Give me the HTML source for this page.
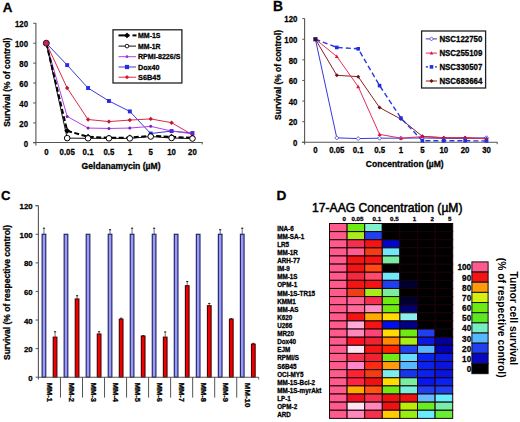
<!DOCTYPE html>
<html><head><meta charset="utf-8"><style>
html,body{margin:0;padding:0;background:#fff;}
body{width:520px;height:422px;overflow:hidden;}
svg{display:block;font-family:"Liberation Sans", sans-serif;}
</style></head><body>
<svg width="520" height="422" viewBox="0 0 520 422" font-family='"Liberation Sans", sans-serif'>
<rect x="0" y="0" width="520" height="422" fill="#fff"/>
<text x="2.70" y="11.90" font-size="13.4" font-weight="bold" text-anchor="start" fill="#000" stroke="#000" stroke-width="0.28">A</text>
<line x1="35.90" y1="23.10" x2="35.90" y2="145.50" stroke="#555" stroke-width="1.1"/>
<line x1="33.20" y1="142.45" x2="202.70" y2="142.45" stroke="#555" stroke-width="1.1"/>
<line x1="202.20" y1="142.45" x2="202.20" y2="144.40" stroke="#555" stroke-width="1.0"/>
<line x1="33.20" y1="142.80" x2="35.90" y2="142.80" stroke="#555" stroke-width="1.0"/>
<text x="28.00" y="146.80" font-size="9.0" font-weight="bold" text-anchor="end" fill="#000" stroke="#000" stroke-width="0.28" textLength="4.35" lengthAdjust="spacingAndGlyphs">0</text>
<line x1="33.20" y1="122.88" x2="35.90" y2="122.88" stroke="#555" stroke-width="1.0"/>
<text x="28.00" y="126.88" font-size="9.0" font-weight="bold" text-anchor="end" fill="#000" stroke="#000" stroke-width="0.28" textLength="8.71" lengthAdjust="spacingAndGlyphs">20</text>
<line x1="33.20" y1="102.96" x2="35.90" y2="102.96" stroke="#555" stroke-width="1.0"/>
<text x="28.00" y="106.96" font-size="9.0" font-weight="bold" text-anchor="end" fill="#000" stroke="#000" stroke-width="0.28" textLength="8.71" lengthAdjust="spacingAndGlyphs">40</text>
<line x1="33.20" y1="83.04" x2="35.90" y2="83.04" stroke="#555" stroke-width="1.0"/>
<text x="28.00" y="87.04" font-size="9.0" font-weight="bold" text-anchor="end" fill="#000" stroke="#000" stroke-width="0.28" textLength="8.71" lengthAdjust="spacingAndGlyphs">60</text>
<line x1="33.20" y1="63.12" x2="35.90" y2="63.12" stroke="#555" stroke-width="1.0"/>
<text x="28.00" y="67.12" font-size="9.0" font-weight="bold" text-anchor="end" fill="#000" stroke="#000" stroke-width="0.28" textLength="8.71" lengthAdjust="spacingAndGlyphs">80</text>
<line x1="33.20" y1="43.20" x2="35.90" y2="43.20" stroke="#555" stroke-width="1.0"/>
<text x="28.00" y="47.20" font-size="9.0" font-weight="bold" text-anchor="end" fill="#000" stroke="#000" stroke-width="0.28" textLength="13.06" lengthAdjust="spacingAndGlyphs">100</text>
<line x1="33.20" y1="23.28" x2="35.90" y2="23.28" stroke="#555" stroke-width="1.0"/>
<text x="28.00" y="27.28" font-size="9.0" font-weight="bold" text-anchor="end" fill="#000" stroke="#000" stroke-width="0.28" textLength="13.06" lengthAdjust="spacingAndGlyphs">120</text>
<text x="46.30" y="155.00" font-size="8.7" font-weight="bold" text-anchor="middle" fill="#000" stroke="#000" stroke-width="0.28" textLength="4.35" lengthAdjust="spacingAndGlyphs">0</text>
<text x="67.18" y="155.00" font-size="8.7" font-weight="bold" text-anchor="middle" fill="#000" stroke="#000" stroke-width="0.28" textLength="15.24" lengthAdjust="spacingAndGlyphs">0.05</text>
<text x="88.06" y="155.00" font-size="8.7" font-weight="bold" text-anchor="middle" fill="#000" stroke="#000" stroke-width="0.28" textLength="10.88" lengthAdjust="spacingAndGlyphs">0.1</text>
<text x="108.94" y="155.00" font-size="8.7" font-weight="bold" text-anchor="middle" fill="#000" stroke="#000" stroke-width="0.28" textLength="10.88" lengthAdjust="spacingAndGlyphs">0.5</text>
<text x="129.82" y="155.00" font-size="8.7" font-weight="bold" text-anchor="middle" fill="#000" stroke="#000" stroke-width="0.28" textLength="4.35" lengthAdjust="spacingAndGlyphs">1</text>
<text x="150.70" y="155.00" font-size="8.7" font-weight="bold" text-anchor="middle" fill="#000" stroke="#000" stroke-width="0.28" textLength="4.35" lengthAdjust="spacingAndGlyphs">5</text>
<text x="171.58" y="155.00" font-size="8.7" font-weight="bold" text-anchor="middle" fill="#000" stroke="#000" stroke-width="0.28" textLength="8.71" lengthAdjust="spacingAndGlyphs">10</text>
<text x="192.46" y="155.00" font-size="8.7" font-weight="bold" text-anchor="middle" fill="#000" stroke="#000" stroke-width="0.28" textLength="8.71" lengthAdjust="spacingAndGlyphs">20</text>
<text x="121.10" y="169.00" font-size="8.5" font-weight="bold" text-anchor="middle" fill="#000" stroke="#000" stroke-width="0.28" textLength="79.00" lengthAdjust="spacingAndGlyphs">Geldanamycin (&#181;M)</text>
<text transform="translate(6.40,82.20) rotate(-90)" x="0" y="3.24" font-size="9.0" font-weight="bold" text-anchor="middle" fill="#000" stroke="#000" stroke-width="0.28" textLength="89.20" lengthAdjust="spacingAndGlyphs">Survival (% of control)</text>
<polyline points="46.30,43.20 67.18,65.11 88.06,88.02 108.94,100.97 129.82,111.43 150.70,133.54 171.58,131.05 192.46,133.04" fill="none" stroke="#3a3ad8" stroke-width="1.0" stroke-linejoin="round"/>
<polyline points="46.30,43.20 67.18,88.02 88.06,119.49 108.94,121.59 129.82,120.09 150.70,118.90 171.58,122.68 192.46,134.83" fill="none" stroke="#dd2a44" stroke-width="1.0" stroke-linejoin="round"/>
<polyline points="46.30,43.20 67.18,116.41 88.06,128.06 108.94,128.46 129.82,128.06 150.70,126.37 171.58,131.05 192.46,133.84" fill="none" stroke="#b040e8" stroke-width="1.0" stroke-linejoin="round"/>
<polyline points="46.30,43.20 67.18,138.12 88.06,138.32 108.94,138.32 129.82,138.42 150.70,136.53 171.58,138.02 192.46,138.52" fill="none" stroke="#111" stroke-width="1.0" stroke-linejoin="round"/>
<polyline points="46.30,43.20 67.18,130.85 88.06,136.82 108.94,137.82 129.82,137.62 150.70,135.83 171.58,136.82 192.46,137.82" fill="none" stroke="#000" stroke-width="2.0" stroke-linejoin="round" stroke-dasharray="5,2.5"/>
<rect x="44.35" y="41.25" width="3.90" height="3.90" fill="#2a2ae0"/>
<rect x="65.23" y="63.16" width="3.90" height="3.90" fill="#2a2ae0"/>
<rect x="86.11" y="86.07" width="3.90" height="3.90" fill="#2a2ae0"/>
<rect x="106.99" y="99.02" width="3.90" height="3.90" fill="#2a2ae0"/>
<rect x="127.87" y="109.48" width="3.90" height="3.90" fill="#2a2ae0"/>
<rect x="148.75" y="131.59" width="3.90" height="3.90" fill="#2a2ae0"/>
<rect x="169.63" y="129.10" width="3.90" height="3.90" fill="#2a2ae0"/>
<rect x="190.51" y="131.09" width="3.90" height="3.90" fill="#2a2ae0"/>
<polygon points="46.30,41.00 48.50,43.20 46.30,45.40 44.10,43.20" fill="#c01830"/>
<polygon points="67.18,85.82 69.38,88.02 67.18,90.22 64.98,88.02" fill="#c01830"/>
<polygon points="88.06,117.29 90.26,119.49 88.06,121.69 85.86,119.49" fill="#c01830"/>
<polygon points="108.94,119.39 111.14,121.59 108.94,123.79 106.74,121.59" fill="#c01830"/>
<polygon points="129.82,117.89 132.02,120.09 129.82,122.29 127.62,120.09" fill="#c01830"/>
<polygon points="150.70,116.70 152.90,118.90 150.70,121.10 148.50,118.90" fill="#c01830"/>
<polygon points="171.58,120.48 173.78,122.68 171.58,124.88 169.38,122.68" fill="#c01830"/>
<polygon points="192.46,132.63 194.66,134.83 192.46,137.03 190.26,134.83" fill="#c01830"/>
<circle cx="46.30" cy="43.20" r="1.50" fill="#7a20c8"/>
<circle cx="67.18" cy="116.41" r="1.50" fill="#7a20c8"/>
<circle cx="88.06" cy="128.06" r="1.50" fill="#7a20c8"/>
<circle cx="108.94" cy="128.46" r="1.50" fill="#7a20c8"/>
<circle cx="129.82" cy="128.06" r="1.50" fill="#7a20c8"/>
<circle cx="150.70" cy="126.37" r="1.50" fill="#7a20c8"/>
<circle cx="171.58" cy="131.05" r="1.50" fill="#7a20c8"/>
<circle cx="192.46" cy="133.84" r="1.50" fill="#7a20c8"/>
<polygon points="67.18,127.85 70.18,130.85 67.18,133.85 64.18,130.85" fill="#000"/>
<polygon points="88.06,133.82 91.06,136.82 88.06,139.82 85.06,136.82" fill="#000"/>
<polygon points="108.94,134.82 111.94,137.82 108.94,140.82 105.94,137.82" fill="#000"/>
<polygon points="129.82,134.62 132.82,137.62 129.82,140.62 126.82,137.62" fill="#000"/>
<polygon points="150.70,132.83 153.70,135.83 150.70,138.83 147.70,135.83" fill="#000"/>
<polygon points="171.58,133.82 174.58,136.82 171.58,139.82 168.58,136.82" fill="#000"/>
<polygon points="192.46,134.82 195.46,137.82 192.46,140.82 189.46,137.82" fill="#000"/>
<circle cx="67.18" cy="138.12" r="2.80" fill="#fff" stroke="#000" stroke-width="1.0"/>
<circle cx="88.06" cy="138.32" r="2.80" fill="#fff" stroke="#000" stroke-width="1.0"/>
<circle cx="108.94" cy="138.32" r="2.80" fill="#fff" stroke="#000" stroke-width="1.0"/>
<circle cx="129.82" cy="138.42" r="2.80" fill="#fff" stroke="#000" stroke-width="1.0"/>
<circle cx="150.70" cy="136.53" r="2.80" fill="#fff" stroke="#000" stroke-width="1.0"/>
<circle cx="171.58" cy="138.02" r="2.80" fill="#fff" stroke="#000" stroke-width="1.0"/>
<circle cx="192.46" cy="138.52" r="2.80" fill="#fff" stroke="#000" stroke-width="1.0"/>
<circle cx="46.30" cy="43.20" r="3.00" fill="#c02858" stroke="#401020" stroke-width="1.0"/>
<rect x="113.00" y="29.80" width="68.90" height="53.20" fill="#fff" stroke="#222" stroke-width="1.3"/>
<line x1="118.50" y1="35.40" x2="129.50" y2="35.40" stroke="#000" stroke-width="2.0"/>
<line x1="132.50" y1="35.40" x2="136.50" y2="35.40" stroke="#000" stroke-width="2.0"/>
<polygon points="127.00,32.60 129.80,35.40 127.00,38.20 124.20,35.40" fill="#000"/>
<line x1="118.50" y1="46.10" x2="136.00" y2="46.10" stroke="#111" stroke-width="1.0"/>
<circle cx="127.00" cy="46.10" r="1.85" fill="#fff" stroke="#000" stroke-width="0.9"/>
<line x1="118.50" y1="56.70" x2="136.00" y2="56.70" stroke="#b040e8" stroke-width="1.0"/>
<circle cx="127.00" cy="56.70" r="1.40" fill="#9a30d0"/>
<line x1="118.50" y1="67.00" x2="136.00" y2="67.00" stroke="#3a3ad8" stroke-width="1.0"/>
<rect x="124.90" y="64.90" width="4.20" height="4.20" fill="#2a2ae0"/>
<line x1="118.50" y1="77.20" x2="136.00" y2="77.20" stroke="#dd2a44" stroke-width="1.0"/>
<polygon points="127.00,75.10 129.10,77.20 127.00,79.30 124.90,77.20" fill="#d81830"/>
<text x="138.00" y="38.15" font-size="7.7" font-weight="bold" text-anchor="start" fill="#000" stroke="#000" stroke-width="0.28" textLength="22.50" lengthAdjust="spacingAndGlyphs">MM-1S</text>
<text x="138.00" y="48.85" font-size="7.7" font-weight="bold" text-anchor="start" fill="#000" stroke="#000" stroke-width="0.28" textLength="22.50" lengthAdjust="spacingAndGlyphs">MM-1R</text>
<text x="138.00" y="59.45" font-size="7.7" font-weight="bold" text-anchor="start" fill="#000" stroke="#000" stroke-width="0.28" textLength="42.40" lengthAdjust="spacingAndGlyphs">RPMI-8226/S</text>
<text x="138.00" y="69.75" font-size="7.7" font-weight="bold" text-anchor="start" fill="#000" stroke="#000" stroke-width="0.28" textLength="21.50" lengthAdjust="spacingAndGlyphs">Dox40</text>
<text x="138.00" y="79.95" font-size="7.7" font-weight="bold" text-anchor="start" fill="#000" stroke="#000" stroke-width="0.28" textLength="22.50" lengthAdjust="spacingAndGlyphs">S6B45</text>
<text x="273.00" y="11.30" font-size="13.8" font-weight="bold" text-anchor="start" fill="#000" stroke="#000" stroke-width="0.28">B</text>
<line x1="304.60" y1="18.60" x2="304.60" y2="144.50" stroke="#555" stroke-width="1.1"/>
<line x1="301.90" y1="142.30" x2="497.60" y2="142.30" stroke="#555" stroke-width="1.1"/>
<line x1="497.20" y1="142.30" x2="497.20" y2="144.20" stroke="#555" stroke-width="1.0"/>
<line x1="302.30" y1="142.30" x2="304.60" y2="142.30" stroke="#555" stroke-width="1.0"/>
<text x="297.40" y="146.10" font-size="9.0" font-weight="bold" text-anchor="end" fill="#000" stroke="#000" stroke-width="0.28" textLength="4.35" lengthAdjust="spacingAndGlyphs">0</text>
<line x1="302.30" y1="121.68" x2="304.60" y2="121.68" stroke="#555" stroke-width="1.0"/>
<text x="297.40" y="125.48" font-size="9.0" font-weight="bold" text-anchor="end" fill="#000" stroke="#000" stroke-width="0.28" textLength="8.71" lengthAdjust="spacingAndGlyphs">20</text>
<line x1="302.30" y1="101.07" x2="304.60" y2="101.07" stroke="#555" stroke-width="1.0"/>
<text x="297.40" y="104.87" font-size="9.0" font-weight="bold" text-anchor="end" fill="#000" stroke="#000" stroke-width="0.28" textLength="8.71" lengthAdjust="spacingAndGlyphs">40</text>
<line x1="302.30" y1="80.45" x2="304.60" y2="80.45" stroke="#555" stroke-width="1.0"/>
<text x="297.40" y="84.25" font-size="9.0" font-weight="bold" text-anchor="end" fill="#000" stroke="#000" stroke-width="0.28" textLength="8.71" lengthAdjust="spacingAndGlyphs">60</text>
<line x1="302.30" y1="59.83" x2="304.60" y2="59.83" stroke="#555" stroke-width="1.0"/>
<text x="297.40" y="63.63" font-size="9.0" font-weight="bold" text-anchor="end" fill="#000" stroke="#000" stroke-width="0.28" textLength="8.71" lengthAdjust="spacingAndGlyphs">80</text>
<line x1="302.30" y1="39.22" x2="304.60" y2="39.22" stroke="#555" stroke-width="1.0"/>
<text x="297.40" y="43.02" font-size="9.0" font-weight="bold" text-anchor="end" fill="#000" stroke="#000" stroke-width="0.28" textLength="13.06" lengthAdjust="spacingAndGlyphs">100</text>
<line x1="302.30" y1="18.60" x2="304.60" y2="18.60" stroke="#555" stroke-width="1.0"/>
<text x="297.40" y="22.40" font-size="9.0" font-weight="bold" text-anchor="end" fill="#000" stroke="#000" stroke-width="0.28" textLength="13.06" lengthAdjust="spacingAndGlyphs">120</text>
<text x="315.40" y="152.90" font-size="8.7" font-weight="bold" text-anchor="middle" fill="#000" stroke="#000" stroke-width="0.28" textLength="4.35" lengthAdjust="spacingAndGlyphs">0</text>
<text x="336.79" y="152.90" font-size="8.7" font-weight="bold" text-anchor="middle" fill="#000" stroke="#000" stroke-width="0.28" textLength="15.24" lengthAdjust="spacingAndGlyphs">0.05</text>
<text x="358.18" y="152.90" font-size="8.7" font-weight="bold" text-anchor="middle" fill="#000" stroke="#000" stroke-width="0.28" textLength="10.88" lengthAdjust="spacingAndGlyphs">0.1</text>
<text x="379.57" y="152.90" font-size="8.7" font-weight="bold" text-anchor="middle" fill="#000" stroke="#000" stroke-width="0.28" textLength="10.88" lengthAdjust="spacingAndGlyphs">0.5</text>
<text x="400.96" y="152.90" font-size="8.7" font-weight="bold" text-anchor="middle" fill="#000" stroke="#000" stroke-width="0.28" textLength="4.35" lengthAdjust="spacingAndGlyphs">1</text>
<text x="422.35" y="152.90" font-size="8.7" font-weight="bold" text-anchor="middle" fill="#000" stroke="#000" stroke-width="0.28" textLength="4.35" lengthAdjust="spacingAndGlyphs">5</text>
<text x="443.74" y="152.90" font-size="8.7" font-weight="bold" text-anchor="middle" fill="#000" stroke="#000" stroke-width="0.28" textLength="8.71" lengthAdjust="spacingAndGlyphs">10</text>
<text x="465.13" y="152.90" font-size="8.7" font-weight="bold" text-anchor="middle" fill="#000" stroke="#000" stroke-width="0.28" textLength="8.71" lengthAdjust="spacingAndGlyphs">20</text>
<text x="486.52" y="152.90" font-size="8.7" font-weight="bold" text-anchor="middle" fill="#000" stroke="#000" stroke-width="0.28" textLength="8.71" lengthAdjust="spacingAndGlyphs">30</text>
<text x="404.75" y="166.50" font-size="8.5" font-weight="bold" text-anchor="middle" fill="#000" stroke="#000" stroke-width="0.28" textLength="77.80" lengthAdjust="spacingAndGlyphs">Concentration (&#181;M)</text>
<text transform="translate(277.30,75.00) rotate(-90)" x="0" y="3.24" font-size="9.0" font-weight="bold" text-anchor="middle" fill="#000" stroke="#000" stroke-width="0.28" textLength="89.90" lengthAdjust="spacingAndGlyphs">Survival (% of control)</text>
<polyline points="315.40,39.22 336.79,137.87 358.18,138.59 379.57,138.18 400.96,138.18 422.35,137.97 443.74,138.38 465.13,138.38 486.52,137.76" fill="none" stroke="#3838d8" stroke-width="1.0" stroke-linejoin="round"/>
<polyline points="315.40,39.22 336.79,75.30 358.18,76.64 379.57,107.56 400.96,119.11 422.35,136.32 443.74,137.76 465.13,137.76 486.52,138.80" fill="none" stroke="#8a2020" stroke-width="1.0" stroke-linejoin="round"/>
<polyline points="315.40,39.22 336.79,56.43 358.18,86.64 379.57,134.36 400.96,138.18 422.35,136.63 443.74,137.66 465.13,137.66 486.52,138.69" fill="none" stroke="#e0305a" stroke-width="1.0" stroke-linejoin="round"/>
<polyline points="315.40,39.22 336.79,47.46 358.18,48.80 379.57,85.60 400.96,118.08 422.35,140.75 443.74,140.75 465.13,140.75 486.52,140.96" fill="none" stroke="#2838e0" stroke-width="1.4" stroke-linejoin="round" stroke-dasharray="5,3"/>
<polygon points="336.79,135.87 338.79,137.87 336.79,139.87 334.79,137.87" fill="#fff" stroke="#3838d8" stroke-width="0.8"/>
<polygon points="358.18,136.59 360.18,138.59 358.18,140.59 356.18,138.59" fill="#fff" stroke="#3838d8" stroke-width="0.8"/>
<polygon points="379.57,136.18 381.57,138.18 379.57,140.18 377.57,138.18" fill="#fff" stroke="#3838d8" stroke-width="0.8"/>
<polygon points="400.96,136.18 402.96,138.18 400.96,140.18 398.96,138.18" fill="#fff" stroke="#3838d8" stroke-width="0.8"/>
<polygon points="422.35,135.97 424.35,137.97 422.35,139.97 420.35,137.97" fill="#fff" stroke="#3838d8" stroke-width="0.8"/>
<polygon points="443.74,136.38 445.74,138.38 443.74,140.38 441.74,138.38" fill="#fff" stroke="#3838d8" stroke-width="0.8"/>
<polygon points="465.13,136.38 467.13,138.38 465.13,140.38 463.13,138.38" fill="#fff" stroke="#3838d8" stroke-width="0.8"/>
<polygon points="486.52,135.76 488.52,137.76 486.52,139.76 484.52,137.76" fill="#fff" stroke="#3838d8" stroke-width="0.8"/>
<polygon points="336.79,73.30 338.79,75.30 336.79,77.30 334.79,75.30" fill="#701010"/>
<polygon points="358.18,74.64 360.18,76.64 358.18,78.64 356.18,76.64" fill="#701010"/>
<polygon points="379.57,105.56 381.57,107.56 379.57,109.56 377.57,107.56" fill="#701010"/>
<polygon points="400.96,117.11 402.96,119.11 400.96,121.11 398.96,119.11" fill="#701010"/>
<polygon points="422.35,134.32 424.35,136.32 422.35,138.32 420.35,136.32" fill="#701010"/>
<polygon points="443.74,135.76 445.74,137.76 443.74,139.76 441.74,137.76" fill="#701010"/>
<polygon points="465.13,135.76 467.13,137.76 465.13,139.76 463.13,137.76" fill="#701010"/>
<polygon points="486.52,136.80 488.52,138.80 486.52,140.80 484.52,138.80" fill="#701010"/>
<polygon points="336.79,54.43 338.79,58.03 334.79,58.03" fill="#e01040"/>
<polygon points="358.18,84.64 360.18,88.23 356.18,88.23" fill="#e01040"/>
<polygon points="379.57,132.36 381.57,135.96 377.57,135.96" fill="#e01040"/>
<polygon points="400.96,136.18 402.96,139.78 398.96,139.78" fill="#e01040"/>
<polygon points="422.35,134.63 424.35,138.23 420.35,138.23" fill="#e01040"/>
<polygon points="443.74,135.66 445.74,139.26 441.74,139.26" fill="#e01040"/>
<polygon points="465.13,135.66 467.13,139.26 463.13,139.26" fill="#e01040"/>
<polygon points="486.52,136.69 488.52,140.29 484.52,140.29" fill="#e01040"/>
<rect x="334.99" y="45.66" width="3.60" height="3.60" fill="#2030e0"/>
<rect x="356.38" y="47.00" width="3.60" height="3.60" fill="#2030e0"/>
<rect x="377.77" y="83.80" width="3.60" height="3.60" fill="#2030e0"/>
<rect x="399.16" y="116.28" width="3.60" height="3.60" fill="#2030e0"/>
<rect x="420.55" y="138.95" width="3.60" height="3.60" fill="#2030e0"/>
<rect x="441.94" y="138.95" width="3.60" height="3.60" fill="#2030e0"/>
<rect x="463.33" y="138.95" width="3.60" height="3.60" fill="#2030e0"/>
<rect x="484.72" y="139.16" width="3.60" height="3.60" fill="#2030e0"/>
<rect x="313.30" y="37.12" width="4.20" height="4.20" fill="#301040"/>
<rect x="421.60" y="31.00" width="64.00" height="57.00" fill="#fff" stroke="#222" stroke-width="1.3"/>
<line x1="425.80" y1="38.90" x2="437.00" y2="38.90" stroke="#3838d8" stroke-width="1.0"/>
<polygon points="431.50,36.90 433.50,38.90 431.50,40.90 429.50,38.90" fill="#fff" stroke="#3838d8" stroke-width="0.8"/>
<line x1="425.80" y1="53.10" x2="437.00" y2="53.10" stroke="#e0305a" stroke-width="1.0"/>
<polygon points="431.50,51.30 433.30,54.54 429.70,54.54" fill="#e01040"/>
<line x1="425.80" y1="66.90" x2="428.00" y2="66.90" stroke="#2838e0" stroke-width="1.4"/>
<line x1="435.00" y1="66.90" x2="437.00" y2="66.90" stroke="#2838e0" stroke-width="1.4"/>
<rect x="429.70" y="65.10" width="3.60" height="3.60" fill="#2030e0"/>
<line x1="425.80" y1="81.00" x2="437.00" y2="81.00" stroke="#8a2020" stroke-width="1.0"/>
<polygon points="431.50,79.00 433.50,81.00 431.50,83.00 429.50,81.00" fill="#701010"/>
<text x="439.40" y="41.90" font-size="8.2" font-weight="bold" text-anchor="start" fill="#000" stroke="#000" stroke-width="0.28" textLength="43.00" lengthAdjust="spacingAndGlyphs">NSC122750</text>
<text x="439.40" y="56.10" font-size="8.2" font-weight="bold" text-anchor="start" fill="#000" stroke="#000" stroke-width="0.28" textLength="43.00" lengthAdjust="spacingAndGlyphs">NSC255109</text>
<text x="439.40" y="69.90" font-size="8.2" font-weight="bold" text-anchor="start" fill="#000" stroke="#000" stroke-width="0.28" textLength="43.00" lengthAdjust="spacingAndGlyphs">NSC330507</text>
<text x="439.40" y="84.00" font-size="8.2" font-weight="bold" text-anchor="start" fill="#000" stroke="#000" stroke-width="0.28" textLength="43.00" lengthAdjust="spacingAndGlyphs">NSC683664</text>
<text x="1.10" y="200.30" font-size="13.2" font-weight="bold" text-anchor="start" fill="#000" stroke="#000" stroke-width="0.28">C</text>
<line x1="38.40" y1="205.70" x2="38.40" y2="379.40" stroke="#555" stroke-width="1.1"/>
<line x1="35.40" y1="205.70" x2="38.40" y2="205.70" stroke="#555" stroke-width="1.0"/>
<line x1="35.60" y1="377.20" x2="38.40" y2="377.20" stroke="#555" stroke-width="1.0"/>
<text x="32.70" y="380.70" font-size="8.0" font-weight="bold" text-anchor="end" fill="#000" stroke="#000" stroke-width="0.28" textLength="4.36" lengthAdjust="spacingAndGlyphs">0</text>
<line x1="35.60" y1="348.62" x2="38.40" y2="348.62" stroke="#555" stroke-width="1.0"/>
<text x="32.70" y="352.12" font-size="8.0" font-weight="bold" text-anchor="end" fill="#000" stroke="#000" stroke-width="0.28" textLength="8.72" lengthAdjust="spacingAndGlyphs">20</text>
<line x1="35.60" y1="320.03" x2="38.40" y2="320.03" stroke="#555" stroke-width="1.0"/>
<text x="32.70" y="323.53" font-size="8.0" font-weight="bold" text-anchor="end" fill="#000" stroke="#000" stroke-width="0.28" textLength="8.72" lengthAdjust="spacingAndGlyphs">40</text>
<line x1="35.60" y1="291.45" x2="38.40" y2="291.45" stroke="#555" stroke-width="1.0"/>
<text x="32.70" y="294.95" font-size="8.0" font-weight="bold" text-anchor="end" fill="#000" stroke="#000" stroke-width="0.28" textLength="8.72" lengthAdjust="spacingAndGlyphs">60</text>
<line x1="35.60" y1="262.87" x2="38.40" y2="262.87" stroke="#555" stroke-width="1.0"/>
<text x="32.70" y="266.37" font-size="8.0" font-weight="bold" text-anchor="end" fill="#000" stroke="#000" stroke-width="0.28" textLength="8.72" lengthAdjust="spacingAndGlyphs">80</text>
<line x1="35.60" y1="234.28" x2="38.40" y2="234.28" stroke="#555" stroke-width="1.0"/>
<text x="32.70" y="237.78" font-size="8.0" font-weight="bold" text-anchor="end" fill="#000" stroke="#000" stroke-width="0.28" textLength="13.08" lengthAdjust="spacingAndGlyphs">100</text>
<line x1="35.60" y1="205.70" x2="38.40" y2="205.70" stroke="#555" stroke-width="1.0"/>
<text x="32.70" y="209.20" font-size="8.0" font-weight="bold" text-anchor="end" fill="#000" stroke="#000" stroke-width="0.28" textLength="13.08" lengthAdjust="spacingAndGlyphs">120</text>
<text transform="translate(6.60,292.50) rotate(-90)" x="0" y="3.13" font-size="8.7" font-weight="bold" text-anchor="middle" fill="#000" stroke="#000" stroke-width="0.28" textLength="135.10" lengthAdjust="spacingAndGlyphs">Survival (% of respective control)</text>
<line x1="43.95" y1="228.20" x2="43.95" y2="234.28" stroke="#333" stroke-width="0.7"/>
<line x1="42.85" y1="228.20" x2="45.05" y2="228.20" stroke="#223" stroke-width="1.1"/>
<line x1="55.05" y1="331.70" x2="55.05" y2="337.18" stroke="#333" stroke-width="0.7"/>
<line x1="53.95" y1="331.70" x2="56.15" y2="331.70" stroke="#232" stroke-width="1.1"/>
<rect x="42.13" y="234.28" width="3.65" height="142.92" fill="#9a9cf4" stroke="#22226a" stroke-width="1.15"/>
<rect x="53.23" y="337.18" width="3.65" height="40.02" fill="#ec0000" stroke="#500000" stroke-width="1.15"/>
<line x1="77.08" y1="295.70" x2="77.08" y2="299.02" stroke="#333" stroke-width="0.7"/>
<line x1="75.98" y1="295.70" x2="78.18" y2="295.70" stroke="#232" stroke-width="1.1"/>
<rect x="64.16" y="234.28" width="3.65" height="142.92" fill="#9a9cf4" stroke="#22226a" stroke-width="1.15"/>
<rect x="75.26" y="299.02" width="3.65" height="78.18" fill="#ec0000" stroke="#500000" stroke-width="1.15"/>
<line x1="99.11" y1="331.70" x2="99.11" y2="334.04" stroke="#333" stroke-width="0.7"/>
<line x1="98.01" y1="331.70" x2="100.21" y2="331.70" stroke="#232" stroke-width="1.1"/>
<rect x="86.19" y="234.28" width="3.65" height="142.92" fill="#9a9cf4" stroke="#22226a" stroke-width="1.15"/>
<rect x="97.29" y="334.04" width="3.65" height="43.16" fill="#ec0000" stroke="#500000" stroke-width="1.15"/>
<line x1="110.04" y1="229.70" x2="110.04" y2="234.28" stroke="#333" stroke-width="0.7"/>
<line x1="108.94" y1="229.70" x2="111.14" y2="229.70" stroke="#223" stroke-width="1.1"/>
<line x1="121.14" y1="318.20" x2="121.14" y2="319.18" stroke="#333" stroke-width="0.7"/>
<line x1="120.04" y1="318.20" x2="122.24" y2="318.20" stroke="#232" stroke-width="1.1"/>
<rect x="108.22" y="234.28" width="3.65" height="142.92" fill="#9a9cf4" stroke="#22226a" stroke-width="1.15"/>
<rect x="119.32" y="319.18" width="3.65" height="58.02" fill="#ec0000" stroke="#500000" stroke-width="1.15"/>
<line x1="132.07" y1="228.20" x2="132.07" y2="234.28" stroke="#333" stroke-width="0.7"/>
<line x1="130.97" y1="228.20" x2="133.17" y2="228.20" stroke="#223" stroke-width="1.1"/>
<line x1="143.17" y1="335.70" x2="143.17" y2="336.04" stroke="#333" stroke-width="0.7"/>
<line x1="142.07" y1="335.70" x2="144.27" y2="335.70" stroke="#232" stroke-width="1.1"/>
<rect x="130.25" y="234.28" width="3.65" height="142.92" fill="#9a9cf4" stroke="#22226a" stroke-width="1.15"/>
<rect x="141.34" y="336.04" width="3.65" height="41.16" fill="#ec0000" stroke="#500000" stroke-width="1.15"/>
<line x1="154.10" y1="228.20" x2="154.10" y2="234.28" stroke="#333" stroke-width="0.7"/>
<line x1="153.00" y1="228.20" x2="155.20" y2="228.20" stroke="#223" stroke-width="1.1"/>
<line x1="165.20" y1="331.90" x2="165.20" y2="337.18" stroke="#333" stroke-width="0.7"/>
<line x1="164.10" y1="331.90" x2="166.30" y2="331.90" stroke="#232" stroke-width="1.1"/>
<rect x="152.28" y="234.28" width="3.65" height="142.92" fill="#9a9cf4" stroke="#22226a" stroke-width="1.15"/>
<rect x="163.38" y="337.18" width="3.65" height="40.02" fill="#ec0000" stroke="#500000" stroke-width="1.15"/>
<line x1="187.23" y1="281.50" x2="187.23" y2="285.73" stroke="#333" stroke-width="0.7"/>
<line x1="186.13" y1="281.50" x2="188.33" y2="281.50" stroke="#232" stroke-width="1.1"/>
<rect x="174.30" y="234.28" width="3.65" height="142.92" fill="#9a9cf4" stroke="#22226a" stroke-width="1.15"/>
<rect x="185.40" y="285.73" width="3.65" height="91.47" fill="#ec0000" stroke="#500000" stroke-width="1.15"/>
<line x1="209.26" y1="303.50" x2="209.26" y2="305.74" stroke="#333" stroke-width="0.7"/>
<line x1="208.16" y1="303.50" x2="210.36" y2="303.50" stroke="#232" stroke-width="1.1"/>
<rect x="196.34" y="234.28" width="3.65" height="142.92" fill="#9a9cf4" stroke="#22226a" stroke-width="1.15"/>
<rect x="207.44" y="305.74" width="3.65" height="71.46" fill="#ec0000" stroke="#500000" stroke-width="1.15"/>
<line x1="220.19" y1="229.70" x2="220.19" y2="234.28" stroke="#333" stroke-width="0.7"/>
<line x1="219.09" y1="229.70" x2="221.29" y2="229.70" stroke="#223" stroke-width="1.1"/>
<line x1="231.29" y1="318.70" x2="231.29" y2="319.18" stroke="#333" stroke-width="0.7"/>
<line x1="230.19" y1="318.70" x2="232.39" y2="318.70" stroke="#232" stroke-width="1.1"/>
<rect x="218.36" y="234.28" width="3.65" height="142.92" fill="#9a9cf4" stroke="#22226a" stroke-width="1.15"/>
<rect x="229.46" y="319.18" width="3.65" height="58.02" fill="#ec0000" stroke="#500000" stroke-width="1.15"/>
<line x1="242.22" y1="228.20" x2="242.22" y2="234.28" stroke="#333" stroke-width="0.7"/>
<line x1="241.12" y1="228.20" x2="243.32" y2="228.20" stroke="#223" stroke-width="1.1"/>
<line x1="253.32" y1="343.40" x2="253.32" y2="344.19" stroke="#333" stroke-width="0.7"/>
<line x1="252.22" y1="343.40" x2="254.42" y2="343.40" stroke="#232" stroke-width="1.1"/>
<rect x="240.40" y="234.28" width="3.65" height="142.92" fill="#9a9cf4" stroke="#22226a" stroke-width="1.15"/>
<rect x="251.50" y="344.19" width="3.65" height="33.01" fill="#ec0000" stroke="#500000" stroke-width="1.15"/>
<line x1="38.40" y1="377.20" x2="258.70" y2="377.20" stroke="#555" stroke-width="1.1"/>
<line x1="60.48" y1="377.20" x2="60.48" y2="397.60" stroke="#555" stroke-width="1.0"/>
<line x1="82.51" y1="377.20" x2="82.51" y2="397.60" stroke="#555" stroke-width="1.0"/>
<line x1="104.54" y1="377.20" x2="104.54" y2="397.60" stroke="#555" stroke-width="1.0"/>
<line x1="126.57" y1="377.20" x2="126.57" y2="397.60" stroke="#555" stroke-width="1.0"/>
<line x1="148.60" y1="377.20" x2="148.60" y2="397.60" stroke="#555" stroke-width="1.0"/>
<line x1="170.63" y1="377.20" x2="170.63" y2="397.60" stroke="#555" stroke-width="1.0"/>
<line x1="192.66" y1="377.20" x2="192.66" y2="397.60" stroke="#555" stroke-width="1.0"/>
<line x1="214.69" y1="377.20" x2="214.69" y2="397.60" stroke="#555" stroke-width="1.0"/>
<line x1="236.72" y1="377.20" x2="236.72" y2="397.60" stroke="#555" stroke-width="1.0"/>
<line x1="258.70" y1="377.20" x2="258.70" y2="379.40" stroke="#555" stroke-width="1.0"/>
<text transform="translate(48.55,382.8) rotate(90)" x="0" y="1.8" font-size="8.0" font-weight="bold" text-anchor="start" stroke="#000" stroke-width="0.3" textLength="19.2" lengthAdjust="spacingAndGlyphs">MM-1</text>
<text transform="translate(70.58,382.8) rotate(90)" x="0" y="1.8" font-size="8.0" font-weight="bold" text-anchor="start" stroke="#000" stroke-width="0.3" textLength="19.2" lengthAdjust="spacingAndGlyphs">MM-2</text>
<text transform="translate(92.61,382.8) rotate(90)" x="0" y="1.8" font-size="8.0" font-weight="bold" text-anchor="start" stroke="#000" stroke-width="0.3" textLength="19.2" lengthAdjust="spacingAndGlyphs">MM-3</text>
<text transform="translate(114.64,382.8) rotate(90)" x="0" y="1.8" font-size="8.0" font-weight="bold" text-anchor="start" stroke="#000" stroke-width="0.3" textLength="19.2" lengthAdjust="spacingAndGlyphs">MM-4</text>
<text transform="translate(136.67,382.8) rotate(90)" x="0" y="1.8" font-size="8.0" font-weight="bold" text-anchor="start" stroke="#000" stroke-width="0.3" textLength="19.2" lengthAdjust="spacingAndGlyphs">MM-5</text>
<text transform="translate(158.70,382.8) rotate(90)" x="0" y="1.8" font-size="8.0" font-weight="bold" text-anchor="start" stroke="#000" stroke-width="0.3" textLength="19.2" lengthAdjust="spacingAndGlyphs">MM-6</text>
<text transform="translate(180.73,382.8) rotate(90)" x="0" y="1.8" font-size="8.0" font-weight="bold" text-anchor="start" stroke="#000" stroke-width="0.3" textLength="19.2" lengthAdjust="spacingAndGlyphs">MM-7</text>
<text transform="translate(202.76,382.8) rotate(90)" x="0" y="1.8" font-size="8.0" font-weight="bold" text-anchor="start" stroke="#000" stroke-width="0.3" textLength="19.2" lengthAdjust="spacingAndGlyphs">MM-8</text>
<text transform="translate(224.79,382.8) rotate(90)" x="0" y="1.8" font-size="8.0" font-weight="bold" text-anchor="start" stroke="#000" stroke-width="0.3" textLength="19.2" lengthAdjust="spacingAndGlyphs">MM-9</text>
<text transform="translate(246.82,382.8) rotate(90)" x="0" y="1.8" font-size="8.0" font-weight="bold" text-anchor="start" stroke="#000" stroke-width="0.3" textLength="24.6" lengthAdjust="spacingAndGlyphs">MM-10</text>
<text x="276.40" y="200.20" font-size="13.7" font-weight="bold" text-anchor="start" fill="#000" stroke="#000" stroke-width="0.28">D</text>
<text x="312.10" y="212.00" font-size="12.0" font-weight="normal" text-anchor="start" fill="#000" stroke="#000" stroke-width="0.5" textLength="150.40" lengthAdjust="spacingAndGlyphs">17-AAG Concentration (&#181;M)</text>
<text x="345.90" y="221.20" font-size="6.2" font-weight="bold" text-anchor="end" fill="#000" stroke="#000" stroke-width="0.28">0</text>
<text x="363.50" y="221.20" font-size="6.2" font-weight="bold" text-anchor="end" fill="#000" stroke="#000" stroke-width="0.28">0.05</text>
<text x="381.10" y="221.20" font-size="6.2" font-weight="bold" text-anchor="end" fill="#000" stroke="#000" stroke-width="0.28">0.1</text>
<text x="398.70" y="221.20" font-size="6.2" font-weight="bold" text-anchor="end" fill="#000" stroke="#000" stroke-width="0.28">0.5</text>
<text x="416.30" y="221.20" font-size="6.2" font-weight="bold" text-anchor="end" fill="#000" stroke="#000" stroke-width="0.28">1</text>
<text x="433.90" y="221.20" font-size="6.2" font-weight="bold" text-anchor="end" fill="#000" stroke="#000" stroke-width="0.28">2</text>
<text x="451.50" y="221.20" font-size="6.2" font-weight="bold" text-anchor="end" fill="#000" stroke="#000" stroke-width="0.28">5</text>
<rect x="329.50" y="223.50" width="17.60" height="8.12" fill="#ff5a8c" stroke="#1a0008" stroke-width="1.0"/>
<rect x="347.10" y="223.50" width="17.60" height="8.12" fill="#6cec10" stroke="#1a0008" stroke-width="1.0"/>
<rect x="364.70" y="223.50" width="17.60" height="8.12" fill="#7ef0cc" stroke="#1a0008" stroke-width="1.0"/>
<rect x="382.30" y="223.50" width="17.60" height="8.12" fill="#000000" stroke="#1a0008" stroke-width="1.0"/>
<rect x="399.90" y="223.50" width="17.60" height="8.12" fill="#000000" stroke="#1a0008" stroke-width="1.0"/>
<rect x="417.50" y="223.50" width="17.60" height="8.12" fill="#000000" stroke="#1a0008" stroke-width="1.0"/>
<rect x="435.10" y="223.50" width="17.60" height="8.12" fill="#000000" stroke="#1a0008" stroke-width="1.0"/>
<rect x="329.50" y="231.62" width="17.60" height="8.12" fill="#ff5a8c" stroke="#1a0008" stroke-width="1.0"/>
<rect x="347.10" y="231.62" width="17.60" height="8.12" fill="#a8ec18" stroke="#1a0008" stroke-width="1.0"/>
<rect x="364.70" y="231.62" width="17.60" height="8.12" fill="#2040f0" stroke="#1a0008" stroke-width="1.0"/>
<rect x="382.30" y="231.62" width="17.60" height="8.12" fill="#000000" stroke="#1a0008" stroke-width="1.0"/>
<rect x="399.90" y="231.62" width="17.60" height="8.12" fill="#000000" stroke="#1a0008" stroke-width="1.0"/>
<rect x="417.50" y="231.62" width="17.60" height="8.12" fill="#000000" stroke="#1a0008" stroke-width="1.0"/>
<rect x="435.10" y="231.62" width="17.60" height="8.12" fill="#000000" stroke="#1a0008" stroke-width="1.0"/>
<rect x="329.50" y="239.74" width="17.60" height="8.12" fill="#ff5a8c" stroke="#1a0008" stroke-width="1.0"/>
<rect x="347.10" y="239.74" width="17.60" height="8.12" fill="#f5304f" stroke="#1a0008" stroke-width="1.0"/>
<rect x="364.70" y="239.74" width="17.60" height="8.12" fill="#f41414" stroke="#1a0008" stroke-width="1.0"/>
<rect x="382.30" y="239.74" width="17.60" height="8.12" fill="#0008c8" stroke="#1a0008" stroke-width="1.0"/>
<rect x="399.90" y="239.74" width="17.60" height="8.12" fill="#000000" stroke="#1a0008" stroke-width="1.0"/>
<rect x="417.50" y="239.74" width="17.60" height="8.12" fill="#000000" stroke="#1a0008" stroke-width="1.0"/>
<rect x="435.10" y="239.74" width="17.60" height="8.12" fill="#000000" stroke="#1a0008" stroke-width="1.0"/>
<rect x="329.50" y="247.86" width="17.60" height="8.12" fill="#ff5a8c" stroke="#1a0008" stroke-width="1.0"/>
<rect x="347.10" y="247.86" width="17.60" height="8.12" fill="#ff5c90" stroke="#1a0008" stroke-width="1.0"/>
<rect x="364.70" y="247.86" width="17.60" height="8.12" fill="#f23c14" stroke="#1a0008" stroke-width="1.0"/>
<rect x="382.30" y="247.86" width="17.60" height="8.12" fill="#70e8f8" stroke="#1a0008" stroke-width="1.0"/>
<rect x="399.90" y="247.86" width="17.60" height="8.12" fill="#000000" stroke="#1a0008" stroke-width="1.0"/>
<rect x="417.50" y="247.86" width="17.60" height="8.12" fill="#000000" stroke="#1a0008" stroke-width="1.0"/>
<rect x="435.10" y="247.86" width="17.60" height="8.12" fill="#000000" stroke="#1a0008" stroke-width="1.0"/>
<rect x="329.50" y="255.98" width="17.60" height="8.12" fill="#ff5a8c" stroke="#1a0008" stroke-width="1.0"/>
<rect x="347.10" y="255.98" width="17.60" height="8.12" fill="#f41414" stroke="#1a0008" stroke-width="1.0"/>
<rect x="364.70" y="255.98" width="17.60" height="8.12" fill="#f41414" stroke="#1a0008" stroke-width="1.0"/>
<rect x="382.30" y="255.98" width="17.60" height="8.12" fill="#78eea0" stroke="#1a0008" stroke-width="1.0"/>
<rect x="399.90" y="255.98" width="17.60" height="8.12" fill="#000000" stroke="#1a0008" stroke-width="1.0"/>
<rect x="417.50" y="255.98" width="17.60" height="8.12" fill="#000000" stroke="#1a0008" stroke-width="1.0"/>
<rect x="435.10" y="255.98" width="17.60" height="8.12" fill="#000000" stroke="#1a0008" stroke-width="1.0"/>
<rect x="329.50" y="264.10" width="17.60" height="8.12" fill="#ff5a8c" stroke="#1a0008" stroke-width="1.0"/>
<rect x="347.10" y="264.10" width="17.60" height="8.12" fill="#f41414" stroke="#1a0008" stroke-width="1.0"/>
<rect x="364.70" y="264.10" width="17.60" height="8.12" fill="#ff4a14" stroke="#1a0008" stroke-width="1.0"/>
<rect x="382.30" y="264.10" width="17.60" height="8.12" fill="#000000" stroke="#1a0008" stroke-width="1.0"/>
<rect x="399.90" y="264.10" width="17.60" height="8.12" fill="#000000" stroke="#1a0008" stroke-width="1.0"/>
<rect x="417.50" y="264.10" width="17.60" height="8.12" fill="#000000" stroke="#1a0008" stroke-width="1.0"/>
<rect x="435.10" y="264.10" width="17.60" height="8.12" fill="#000000" stroke="#1a0008" stroke-width="1.0"/>
<rect x="329.50" y="272.22" width="17.60" height="8.12" fill="#ff5a8c" stroke="#1a0008" stroke-width="1.0"/>
<rect x="347.10" y="272.22" width="17.60" height="8.12" fill="#f52840" stroke="#1a0008" stroke-width="1.0"/>
<rect x="364.70" y="272.22" width="17.60" height="8.12" fill="#ff4a6a" stroke="#1a0008" stroke-width="1.0"/>
<rect x="382.30" y="272.22" width="17.60" height="8.12" fill="#70e8f8" stroke="#1a0008" stroke-width="1.0"/>
<rect x="399.90" y="272.22" width="17.60" height="8.12" fill="#000000" stroke="#1a0008" stroke-width="1.0"/>
<rect x="417.50" y="272.22" width="17.60" height="8.12" fill="#000000" stroke="#1a0008" stroke-width="1.0"/>
<rect x="435.10" y="272.22" width="17.60" height="8.12" fill="#000000" stroke="#1a0008" stroke-width="1.0"/>
<rect x="329.50" y="280.34" width="17.60" height="8.12" fill="#ff5a8c" stroke="#1a0008" stroke-width="1.0"/>
<rect x="347.10" y="280.34" width="17.60" height="8.12" fill="#f41414" stroke="#1a0008" stroke-width="1.0"/>
<rect x="364.70" y="280.34" width="17.60" height="8.12" fill="#f41414" stroke="#1a0008" stroke-width="1.0"/>
<rect x="382.30" y="280.34" width="17.60" height="8.12" fill="#2040f0" stroke="#1a0008" stroke-width="1.0"/>
<rect x="399.90" y="280.34" width="17.60" height="8.12" fill="#000030" stroke="#1a0008" stroke-width="1.0"/>
<rect x="417.50" y="280.34" width="17.60" height="8.12" fill="#000000" stroke="#1a0008" stroke-width="1.0"/>
<rect x="435.10" y="280.34" width="17.60" height="8.12" fill="#000000" stroke="#1a0008" stroke-width="1.0"/>
<rect x="329.50" y="288.46" width="17.60" height="8.12" fill="#ff5a8c" stroke="#1a0008" stroke-width="1.0"/>
<rect x="347.10" y="288.46" width="17.60" height="8.12" fill="#f23c14" stroke="#1a0008" stroke-width="1.0"/>
<rect x="364.70" y="288.46" width="17.60" height="8.12" fill="#a8ec18" stroke="#1a0008" stroke-width="1.0"/>
<rect x="382.30" y="288.46" width="17.60" height="8.12" fill="#78eea0" stroke="#1a0008" stroke-width="1.0"/>
<rect x="399.90" y="288.46" width="17.60" height="8.12" fill="#000000" stroke="#1a0008" stroke-width="1.0"/>
<rect x="417.50" y="288.46" width="17.60" height="8.12" fill="#000000" stroke="#1a0008" stroke-width="1.0"/>
<rect x="435.10" y="288.46" width="17.60" height="8.12" fill="#000000" stroke="#1a0008" stroke-width="1.0"/>
<rect x="329.50" y="296.58" width="17.60" height="8.12" fill="#ff5a8c" stroke="#1a0008" stroke-width="1.0"/>
<rect x="347.10" y="296.58" width="17.60" height="8.12" fill="#ff5c90" stroke="#1a0008" stroke-width="1.0"/>
<rect x="364.70" y="296.58" width="17.60" height="8.12" fill="#f5304f" stroke="#1a0008" stroke-width="1.0"/>
<rect x="382.30" y="296.58" width="17.60" height="8.12" fill="#6cec10" stroke="#1a0008" stroke-width="1.0"/>
<rect x="399.90" y="296.58" width="17.60" height="8.12" fill="#000030" stroke="#1a0008" stroke-width="1.0"/>
<rect x="417.50" y="296.58" width="17.60" height="8.12" fill="#000000" stroke="#1a0008" stroke-width="1.0"/>
<rect x="435.10" y="296.58" width="17.60" height="8.12" fill="#000000" stroke="#1a0008" stroke-width="1.0"/>
<rect x="329.50" y="304.70" width="17.60" height="8.12" fill="#ff5a8c" stroke="#1a0008" stroke-width="1.0"/>
<rect x="347.10" y="304.70" width="17.60" height="8.12" fill="#ff6a9c" stroke="#1a0008" stroke-width="1.0"/>
<rect x="364.70" y="304.70" width="17.60" height="8.12" fill="#ff90c4" stroke="#1a0008" stroke-width="1.0"/>
<rect x="382.30" y="304.70" width="17.60" height="8.12" fill="#6cec10" stroke="#1a0008" stroke-width="1.0"/>
<rect x="399.90" y="304.70" width="17.60" height="8.12" fill="#000070" stroke="#1a0008" stroke-width="1.0"/>
<rect x="417.50" y="304.70" width="17.60" height="8.12" fill="#000000" stroke="#1a0008" stroke-width="1.0"/>
<rect x="435.10" y="304.70" width="17.60" height="8.12" fill="#000000" stroke="#1a0008" stroke-width="1.0"/>
<rect x="329.50" y="312.82" width="17.60" height="8.12" fill="#ff5a8c" stroke="#1a0008" stroke-width="1.0"/>
<rect x="347.10" y="312.82" width="17.60" height="8.12" fill="#f41414" stroke="#1a0008" stroke-width="1.0"/>
<rect x="364.70" y="312.82" width="17.60" height="8.12" fill="#ffaa00" stroke="#1a0008" stroke-width="1.0"/>
<rect x="382.30" y="312.82" width="17.60" height="8.12" fill="#ffdc00" stroke="#1a0008" stroke-width="1.0"/>
<rect x="399.90" y="312.82" width="17.60" height="8.12" fill="#88eeee" stroke="#1a0008" stroke-width="1.0"/>
<rect x="417.50" y="312.82" width="17.60" height="8.12" fill="#000000" stroke="#1a0008" stroke-width="1.0"/>
<rect x="435.10" y="312.82" width="17.60" height="8.12" fill="#000000" stroke="#1a0008" stroke-width="1.0"/>
<rect x="329.50" y="320.94" width="17.60" height="8.12" fill="#ff5a8c" stroke="#1a0008" stroke-width="1.0"/>
<rect x="347.10" y="320.94" width="17.60" height="8.12" fill="#ffaad8" stroke="#1a0008" stroke-width="1.0"/>
<rect x="364.70" y="320.94" width="17.60" height="8.12" fill="#f41414" stroke="#1a0008" stroke-width="1.0"/>
<rect x="382.30" y="320.94" width="17.60" height="8.12" fill="#0010e8" stroke="#1a0008" stroke-width="1.0"/>
<rect x="399.90" y="320.94" width="17.60" height="8.12" fill="#000088" stroke="#1a0008" stroke-width="1.0"/>
<rect x="417.50" y="320.94" width="17.60" height="8.12" fill="#000000" stroke="#1a0008" stroke-width="1.0"/>
<rect x="435.10" y="320.94" width="17.60" height="8.12" fill="#000000" stroke="#1a0008" stroke-width="1.0"/>
<rect x="329.50" y="329.06" width="17.60" height="8.12" fill="#ff5a8c" stroke="#1a0008" stroke-width="1.0"/>
<rect x="347.10" y="329.06" width="17.60" height="8.12" fill="#ff88bb" stroke="#1a0008" stroke-width="1.0"/>
<rect x="364.70" y="329.06" width="17.60" height="8.12" fill="#ff4477" stroke="#1a0008" stroke-width="1.0"/>
<rect x="382.30" y="329.06" width="17.60" height="8.12" fill="#ffdc00" stroke="#1a0008" stroke-width="1.0"/>
<rect x="399.90" y="329.06" width="17.60" height="8.12" fill="#6cec10" stroke="#1a0008" stroke-width="1.0"/>
<rect x="417.50" y="329.06" width="17.60" height="8.12" fill="#2040f0" stroke="#1a0008" stroke-width="1.0"/>
<rect x="435.10" y="329.06" width="17.60" height="8.12" fill="#000000" stroke="#1a0008" stroke-width="1.0"/>
<rect x="329.50" y="337.18" width="17.60" height="8.12" fill="#ff5a8c" stroke="#1a0008" stroke-width="1.0"/>
<rect x="347.10" y="337.18" width="17.60" height="8.12" fill="#ff1122" stroke="#1a0008" stroke-width="1.0"/>
<rect x="364.70" y="337.18" width="17.60" height="8.12" fill="#ee2233" stroke="#1a0008" stroke-width="1.0"/>
<rect x="382.30" y="337.18" width="17.60" height="8.12" fill="#ff8800" stroke="#1a0008" stroke-width="1.0"/>
<rect x="399.90" y="337.18" width="17.60" height="8.12" fill="#a8ec18" stroke="#1a0008" stroke-width="1.0"/>
<rect x="417.50" y="337.18" width="17.60" height="8.12" fill="#0a18e0" stroke="#1a0008" stroke-width="1.0"/>
<rect x="435.10" y="337.18" width="17.60" height="8.12" fill="#000098" stroke="#1a0008" stroke-width="1.0"/>
<rect x="329.50" y="345.30" width="17.60" height="8.12" fill="#ff5a8c" stroke="#1a0008" stroke-width="1.0"/>
<rect x="347.10" y="345.30" width="17.60" height="8.12" fill="#ffe4f2" stroke="#1a0008" stroke-width="1.0"/>
<rect x="364.70" y="345.30" width="17.60" height="8.12" fill="#f41414" stroke="#1a0008" stroke-width="1.0"/>
<rect x="382.30" y="345.30" width="17.60" height="8.12" fill="#ff2200" stroke="#1a0008" stroke-width="1.0"/>
<rect x="399.90" y="345.30" width="17.60" height="8.12" fill="#2040f0" stroke="#1a0008" stroke-width="1.0"/>
<rect x="417.50" y="345.30" width="17.60" height="8.12" fill="#58b8ff" stroke="#1a0008" stroke-width="1.0"/>
<rect x="435.10" y="345.30" width="17.60" height="8.12" fill="#0000b0" stroke="#1a0008" stroke-width="1.0"/>
<rect x="329.50" y="353.42" width="17.60" height="8.12" fill="#ff5a8c" stroke="#1a0008" stroke-width="1.0"/>
<rect x="347.10" y="353.42" width="17.60" height="8.12" fill="#f5304f" stroke="#1a0008" stroke-width="1.0"/>
<rect x="364.70" y="353.42" width="17.60" height="8.12" fill="#ee2233" stroke="#1a0008" stroke-width="1.0"/>
<rect x="382.30" y="353.42" width="17.60" height="8.12" fill="#6cec10" stroke="#1a0008" stroke-width="1.0"/>
<rect x="399.90" y="353.42" width="17.60" height="8.12" fill="#66ddff" stroke="#1a0008" stroke-width="1.0"/>
<rect x="417.50" y="353.42" width="17.60" height="8.12" fill="#0a22ee" stroke="#1a0008" stroke-width="1.0"/>
<rect x="435.10" y="353.42" width="17.60" height="8.12" fill="#0a1add" stroke="#1a0008" stroke-width="1.0"/>
<rect x="329.50" y="361.54" width="17.60" height="8.12" fill="#ff5a8c" stroke="#1a0008" stroke-width="1.0"/>
<rect x="347.10" y="361.54" width="17.60" height="8.12" fill="#ff88cc" stroke="#1a0008" stroke-width="1.0"/>
<rect x="364.70" y="361.54" width="17.60" height="8.12" fill="#ff2a14" stroke="#1a0008" stroke-width="1.0"/>
<rect x="382.30" y="361.54" width="17.60" height="8.12" fill="#ff9a0a" stroke="#1a0008" stroke-width="1.0"/>
<rect x="399.90" y="361.54" width="17.60" height="8.12" fill="#58b8ff" stroke="#1a0008" stroke-width="1.0"/>
<rect x="417.50" y="361.54" width="17.60" height="8.12" fill="#0a22ee" stroke="#1a0008" stroke-width="1.0"/>
<rect x="435.10" y="361.54" width="17.60" height="8.12" fill="#0a14dd" stroke="#1a0008" stroke-width="1.0"/>
<rect x="329.50" y="369.66" width="17.60" height="8.12" fill="#ff5a8c" stroke="#1a0008" stroke-width="1.0"/>
<rect x="347.10" y="369.66" width="17.60" height="8.12" fill="#ff2233" stroke="#1a0008" stroke-width="1.0"/>
<rect x="364.70" y="369.66" width="17.60" height="8.12" fill="#f23c14" stroke="#1a0008" stroke-width="1.0"/>
<rect x="382.30" y="369.66" width="17.60" height="8.12" fill="#78eeee" stroke="#1a0008" stroke-width="1.0"/>
<rect x="399.90" y="369.66" width="17.60" height="8.12" fill="#1535ee" stroke="#1a0008" stroke-width="1.0"/>
<rect x="417.50" y="369.66" width="17.60" height="8.12" fill="#0a22ee" stroke="#1a0008" stroke-width="1.0"/>
<rect x="435.10" y="369.66" width="17.60" height="8.12" fill="#0a14dd" stroke="#1a0008" stroke-width="1.0"/>
<rect x="329.50" y="377.78" width="17.60" height="8.12" fill="#ff5a8c" stroke="#1a0008" stroke-width="1.0"/>
<rect x="347.10" y="377.78" width="17.60" height="8.12" fill="#ff2244" stroke="#1a0008" stroke-width="1.0"/>
<rect x="364.70" y="377.78" width="17.60" height="8.12" fill="#ee1111" stroke="#1a0008" stroke-width="1.0"/>
<rect x="382.30" y="377.78" width="17.60" height="8.12" fill="#ffdc00" stroke="#1a0008" stroke-width="1.0"/>
<rect x="399.90" y="377.78" width="17.60" height="8.12" fill="#78eea0" stroke="#1a0008" stroke-width="1.0"/>
<rect x="417.50" y="377.78" width="17.60" height="8.12" fill="#0a14ee" stroke="#1a0008" stroke-width="1.0"/>
<rect x="435.10" y="377.78" width="17.60" height="8.12" fill="#0a22ee" stroke="#1a0008" stroke-width="1.0"/>
<rect x="329.50" y="385.90" width="17.60" height="8.12" fill="#ff5a8c" stroke="#1a0008" stroke-width="1.0"/>
<rect x="347.10" y="385.90" width="17.60" height="8.12" fill="#ffaa00" stroke="#1a0008" stroke-width="1.0"/>
<rect x="364.70" y="385.90" width="17.60" height="8.12" fill="#ff5511" stroke="#1a0008" stroke-width="1.0"/>
<rect x="382.30" y="385.90" width="17.60" height="8.12" fill="#6cec10" stroke="#1a0008" stroke-width="1.0"/>
<rect x="399.90" y="385.90" width="17.60" height="8.12" fill="#78eedd" stroke="#1a0008" stroke-width="1.0"/>
<rect x="417.50" y="385.90" width="17.60" height="8.12" fill="#2040f0" stroke="#1a0008" stroke-width="1.0"/>
<rect x="435.10" y="385.90" width="17.60" height="8.12" fill="#2040f0" stroke="#1a0008" stroke-width="1.0"/>
<rect x="329.50" y="394.02" width="17.60" height="8.12" fill="#ff5a8c" stroke="#1a0008" stroke-width="1.0"/>
<rect x="347.10" y="394.02" width="17.60" height="8.12" fill="#ee1122" stroke="#1a0008" stroke-width="1.0"/>
<rect x="364.70" y="394.02" width="17.60" height="8.12" fill="#f5304f" stroke="#1a0008" stroke-width="1.0"/>
<rect x="382.30" y="394.02" width="17.60" height="8.12" fill="#ee1111" stroke="#1a0008" stroke-width="1.0"/>
<rect x="399.90" y="394.02" width="17.60" height="8.12" fill="#ee1111" stroke="#1a0008" stroke-width="1.0"/>
<rect x="417.50" y="394.02" width="17.60" height="8.12" fill="#66bbff" stroke="#1a0008" stroke-width="1.0"/>
<rect x="435.10" y="394.02" width="17.60" height="8.12" fill="#66eeff" stroke="#1a0008" stroke-width="1.0"/>
<rect x="329.50" y="402.14" width="17.60" height="8.12" fill="#ff5a8c" stroke="#1a0008" stroke-width="1.0"/>
<rect x="347.10" y="402.14" width="17.60" height="8.12" fill="#ffe4f2" stroke="#1a0008" stroke-width="1.0"/>
<rect x="364.70" y="402.14" width="17.60" height="8.12" fill="#ff88bb" stroke="#1a0008" stroke-width="1.0"/>
<rect x="382.30" y="402.14" width="17.60" height="8.12" fill="#ee1111" stroke="#1a0008" stroke-width="1.0"/>
<rect x="399.90" y="402.14" width="17.60" height="8.12" fill="#bbee00" stroke="#1a0008" stroke-width="1.0"/>
<rect x="417.50" y="402.14" width="17.60" height="8.12" fill="#66ee22" stroke="#1a0008" stroke-width="1.0"/>
<rect x="435.10" y="402.14" width="17.60" height="8.12" fill="#78eeaa" stroke="#1a0008" stroke-width="1.0"/>
<rect x="329.50" y="410.26" width="17.60" height="8.12" fill="#ff5a8c" stroke="#1a0008" stroke-width="1.0"/>
<rect x="347.10" y="410.26" width="17.60" height="8.12" fill="#ff88bb" stroke="#1a0008" stroke-width="1.0"/>
<rect x="364.70" y="410.26" width="17.60" height="8.12" fill="#f5304f" stroke="#1a0008" stroke-width="1.0"/>
<rect x="382.30" y="410.26" width="17.60" height="8.12" fill="#ffcc00" stroke="#1a0008" stroke-width="1.0"/>
<rect x="399.90" y="410.26" width="17.60" height="8.12" fill="#99ee11" stroke="#1a0008" stroke-width="1.0"/>
<rect x="417.50" y="410.26" width="17.60" height="8.12" fill="#66eeff" stroke="#1a0008" stroke-width="1.0"/>
<rect x="435.10" y="410.26" width="17.60" height="8.12" fill="#66ee33" stroke="#1a0008" stroke-width="1.0"/>
<text x="277.20" y="230.56" font-size="6.4" font-weight="bold" text-anchor="start" fill="#000" stroke="#000" stroke-width="0.28" textLength="16.46" lengthAdjust="spacingAndGlyphs">INA-6</text>
<text x="277.20" y="238.68" font-size="6.4" font-weight="bold" text-anchor="start" fill="#000" stroke="#000" stroke-width="0.28" textLength="26.96" lengthAdjust="spacingAndGlyphs">MM-SA-1</text>
<text x="277.20" y="246.80" font-size="6.4" font-weight="bold" text-anchor="start" fill="#000" stroke="#000" stroke-width="0.28" textLength="11.91" lengthAdjust="spacingAndGlyphs">LR5</text>
<text x="277.20" y="254.92" font-size="6.4" font-weight="bold" text-anchor="start" fill="#000" stroke="#000" stroke-width="0.28" textLength="20.66" lengthAdjust="spacingAndGlyphs">MM-1R</text>
<text x="277.20" y="263.04" font-size="6.4" font-weight="bold" text-anchor="start" fill="#000" stroke="#000" stroke-width="0.28" textLength="22.77" lengthAdjust="spacingAndGlyphs">ARH-77</text>
<text x="277.20" y="271.16" font-size="6.4" font-weight="bold" text-anchor="start" fill="#000" stroke="#000" stroke-width="0.28" textLength="12.61" lengthAdjust="spacingAndGlyphs">IM-9</text>
<text x="277.20" y="279.28" font-size="6.4" font-weight="bold" text-anchor="start" fill="#000" stroke="#000" stroke-width="0.28" textLength="20.31" lengthAdjust="spacingAndGlyphs">MM-1S</text>
<text x="277.20" y="287.40" font-size="6.4" font-weight="bold" text-anchor="start" fill="#000" stroke="#000" stroke-width="0.28" textLength="19.96" lengthAdjust="spacingAndGlyphs">OPM-1</text>
<text x="277.20" y="295.52" font-size="6.4" font-weight="bold" text-anchor="start" fill="#000" stroke="#000" stroke-width="0.28" textLength="37.83" lengthAdjust="spacingAndGlyphs">MM-1S-TR15</text>
<text x="277.20" y="303.64" font-size="6.4" font-weight="bold" text-anchor="start" fill="#000" stroke="#000" stroke-width="0.28" textLength="18.56" lengthAdjust="spacingAndGlyphs">KMM1</text>
<text x="277.20" y="311.76" font-size="6.4" font-weight="bold" text-anchor="start" fill="#000" stroke="#000" stroke-width="0.28" textLength="21.36" lengthAdjust="spacingAndGlyphs">MM-AS</text>
<text x="277.20" y="319.88" font-size="6.4" font-weight="bold" text-anchor="start" fill="#000" stroke="#000" stroke-width="0.28" textLength="15.07" lengthAdjust="spacingAndGlyphs">K620</text>
<text x="277.20" y="328.00" font-size="6.4" font-weight="bold" text-anchor="start" fill="#000" stroke="#000" stroke-width="0.28" textLength="15.07" lengthAdjust="spacingAndGlyphs">U266</text>
<text x="277.20" y="336.12" font-size="6.4" font-weight="bold" text-anchor="start" fill="#000" stroke="#000" stroke-width="0.28" textLength="16.82" lengthAdjust="spacingAndGlyphs">MR20</text>
<text x="277.20" y="344.24" font-size="6.4" font-weight="bold" text-anchor="start" fill="#000" stroke="#000" stroke-width="0.28" textLength="18.92" lengthAdjust="spacingAndGlyphs">Dox40</text>
<text x="277.20" y="352.36" font-size="6.4" font-weight="bold" text-anchor="start" fill="#000" stroke="#000" stroke-width="0.28" textLength="12.96" lengthAdjust="spacingAndGlyphs">EJM</text>
<text x="277.20" y="360.48" font-size="6.4" font-weight="bold" text-anchor="start" fill="#000" stroke="#000" stroke-width="0.28" textLength="21.72" lengthAdjust="spacingAndGlyphs">RPMI/S</text>
<text x="277.20" y="368.60" font-size="6.4" font-weight="bold" text-anchor="start" fill="#000" stroke="#000" stroke-width="0.28" textLength="19.28" lengthAdjust="spacingAndGlyphs">S6B45</text>
<text x="277.20" y="376.72" font-size="6.4" font-weight="bold" text-anchor="start" fill="#000" stroke="#000" stroke-width="0.28" textLength="26.27" lengthAdjust="spacingAndGlyphs">OCI-MY5</text>
<text x="277.20" y="384.84" font-size="6.4" font-weight="bold" text-anchor="start" fill="#000" stroke="#000" stroke-width="0.28" textLength="37.83" lengthAdjust="spacingAndGlyphs">MM-1S-Bcl-2</text>
<text x="277.20" y="392.96" font-size="6.4" font-weight="bold" text-anchor="start" fill="#000" stroke="#000" stroke-width="0.28" textLength="44.13" lengthAdjust="spacingAndGlyphs">MM-1S-myrAkt</text>
<text x="277.20" y="401.08" font-size="6.4" font-weight="bold" text-anchor="start" fill="#000" stroke="#000" stroke-width="0.28" textLength="13.66" lengthAdjust="spacingAndGlyphs">LP-1</text>
<text x="277.20" y="409.20" font-size="6.4" font-weight="bold" text-anchor="start" fill="#000" stroke="#000" stroke-width="0.28" textLength="19.96" lengthAdjust="spacingAndGlyphs">OPM-2</text>
<text x="277.20" y="417.32" font-size="6.4" font-weight="bold" text-anchor="start" fill="#000" stroke="#000" stroke-width="0.28" textLength="13.66" lengthAdjust="spacingAndGlyphs">ARD</text>
<rect x="471.90" y="261.90" width="16.20" height="10.16" fill="#ff5a8c" stroke="#111" stroke-width="1.0"/>
<text x="471.20" y="270.38" font-size="8.2" font-weight="bold" text-anchor="end" fill="#000" stroke="#000" stroke-width="0.28">100</text>
<rect x="471.90" y="272.06" width="16.20" height="10.16" fill="#f41414" stroke="#111" stroke-width="1.0"/>
<text x="471.20" y="280.54" font-size="8.2" font-weight="bold" text-anchor="end" fill="#000" stroke="#000" stroke-width="0.28">90</text>
<rect x="471.90" y="282.22" width="16.20" height="10.16" fill="#ff9a0a" stroke="#111" stroke-width="1.0"/>
<text x="471.20" y="290.70" font-size="8.2" font-weight="bold" text-anchor="end" fill="#000" stroke="#000" stroke-width="0.28">80</text>
<rect x="471.90" y="292.38" width="16.20" height="10.16" fill="#d8f010" stroke="#111" stroke-width="1.0"/>
<text x="471.20" y="300.86" font-size="8.2" font-weight="bold" text-anchor="end" fill="#000" stroke="#000" stroke-width="0.28">70</text>
<rect x="471.90" y="302.54" width="16.20" height="10.16" fill="#6cec10" stroke="#111" stroke-width="1.0"/>
<text x="471.20" y="311.02" font-size="8.2" font-weight="bold" text-anchor="end" fill="#000" stroke="#000" stroke-width="0.28">60</text>
<rect x="471.90" y="312.70" width="16.20" height="10.16" fill="#5ee820" stroke="#111" stroke-width="1.0"/>
<text x="471.20" y="321.18" font-size="8.2" font-weight="bold" text-anchor="end" fill="#000" stroke="#000" stroke-width="0.28">50</text>
<rect x="471.90" y="322.86" width="16.20" height="10.16" fill="#78eec0" stroke="#111" stroke-width="1.0"/>
<text x="471.20" y="331.34" font-size="8.2" font-weight="bold" text-anchor="end" fill="#000" stroke="#000" stroke-width="0.28">40</text>
<rect x="471.90" y="333.02" width="16.20" height="10.16" fill="#58b8ff" stroke="#111" stroke-width="1.0"/>
<text x="471.20" y="341.50" font-size="8.2" font-weight="bold" text-anchor="end" fill="#000" stroke="#000" stroke-width="0.28">30</text>
<rect x="471.90" y="343.18" width="16.20" height="10.16" fill="#2040f0" stroke="#111" stroke-width="1.0"/>
<text x="471.20" y="351.66" font-size="8.2" font-weight="bold" text-anchor="end" fill="#000" stroke="#000" stroke-width="0.28">20</text>
<rect x="471.90" y="353.34" width="16.20" height="10.16" fill="#0808c0" stroke="#111" stroke-width="1.0"/>
<text x="471.20" y="361.82" font-size="8.2" font-weight="bold" text-anchor="end" fill="#000" stroke="#000" stroke-width="0.28">10</text>
<rect x="471.90" y="363.50" width="16.20" height="10.16" fill="#000000" stroke="#111" stroke-width="1.0"/>
<text x="471.20" y="371.98" font-size="8.2" font-weight="bold" text-anchor="end" fill="#000" stroke="#000" stroke-width="0.28">0</text>
<text transform="translate(510.4,318.3) rotate(90)" x="0" y="0" font-size="10.2" font-weight="bold" text-anchor="middle" textLength="93.8" lengthAdjust="spacingAndGlyphs">Tumor cell survival</text>
<text transform="translate(497.6,317.7) rotate(90)" x="0" y="0" font-size="10.2" font-weight="bold" text-anchor="middle" textLength="119.9" lengthAdjust="spacingAndGlyphs">(% of respective control)</text>
</svg>
</body></html>
